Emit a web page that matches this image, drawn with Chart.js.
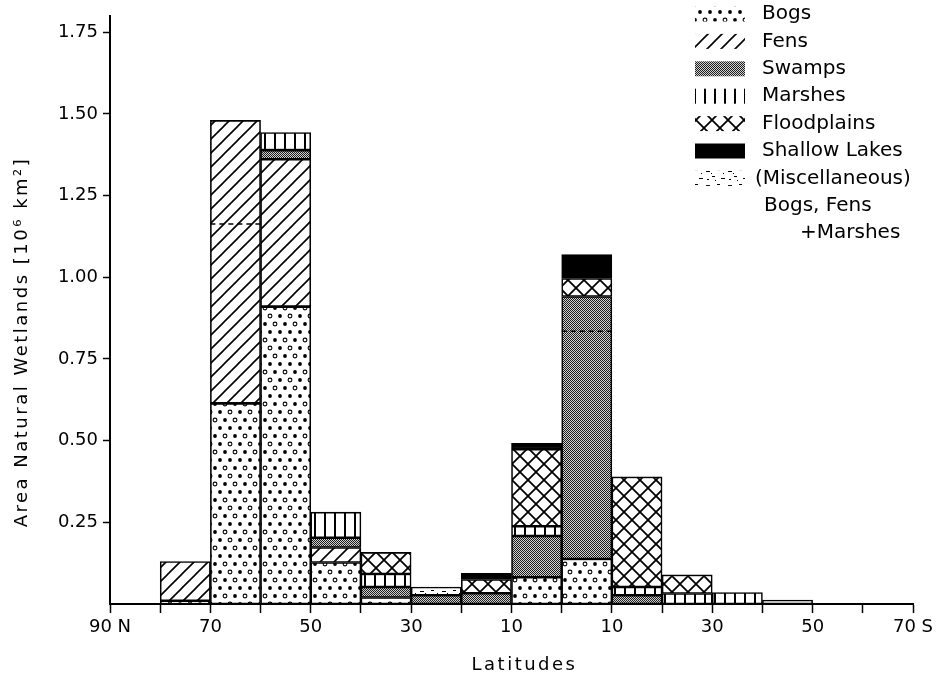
<!DOCTYPE html>
<html>
<head>
<meta charset="utf-8">
<title>Natural wetlands by latitude</title>
<script src="https://cdn.jsdelivr.net/npm/chart.js@4/dist/chart.umd.min.js"></script>
<style>
  html, body { margin: 0; padding: 0; background: #fff; }
  #wrap { width: 946px; height: 676px; }
</style>
</head>
<body>
<div id="wrap"><canvas id="chart" width="946" height="676"></canvas></div>
<script>
// Latitude bands, 10 degrees wide, given by their centre (north positive, south negative)
const bandCentres = [75, 65, 55, 45, 35, 25, 15, 5, -5, -15, -25, -35, -45];

// Area of each wetland type per band, 10^6 km^2 (stacked bottom to top)
const bogs        = [0.010, 0.614, 0.910, 0.127, 0.020, null,  null,  0.082, 0.138, null,  null,  null,  null];
const fens        = [0.120, 0.866, 0.451, 0.046, null,  null,  null,  null,  null,  null,  null,  null,  null];
const swamps      = [null,  null,  0.028, 0.030, 0.032, 0.027, 0.033, 0.126, 0.803, 0.027, null,  null,  null];
const marshes     = [null,  null,  0.054, 0.078, 0.040, null,  null,  0.030, null,  0.025, 0.032, 0.035, null];
const floodplains = [null,  null,  null,  null,  0.066, null,  0.042, 0.236, 0.055, 0.337, 0.057, null,  null];
const shallowLakes= [null,  null,  null,  null,  null,  null,  0.019, 0.018, 0.073, null,  null,  null,  null];
const misc        = [null,  null,  null,  null,  null,  0.025, null,  null,  null,  null,  null,  null,  0.012];

// Dashed sub-divisions drawn inside two of the columns
const dividerBands  = [65, -5];
const dividerLevels = [1.163, 0.835];

// Axis ticks
const xTickValues = [90, 70, 50, 30, 10, -10, -30, -50, -70];
const xTickLabels = ['90 N', '70', '50', '30', '10', '10', '30', '50', '70 S'];
const yTickValues = [0.25, 0.50, 0.75, 1.00, 1.25, 1.50, 1.75];

const xTitle = 'Latitudes';
const yTitle = 'Area Natural Wetlands [10\u2076 km\u00b2]';

// ---- fill patterns -------------------------------------------------------
function tile(w, h, paint) {
  const c = document.createElement('canvas');
  c.width = w; c.height = h;
  const g = c.getContext('2d');
  g.fillStyle = '#fff'; g.fillRect(0, 0, w, h);
  g.fillStyle = '#000'; g.strokeStyle = '#000';
  paint(g, w, h);
  return g.createPattern(c, 'repeat');
}

const patterns = {
  bogs: tile(20, 32, g => {
    const dot = (x, y, filled) => {
      g.beginPath(); g.arc(x, y, 1.9, 0, Math.PI * 2);
      if (filled) g.fill(); else { g.lineWidth = 1.1; g.stroke(); }
    };
    dot(5, 4, true);  dot(15, 4, false);
    dot(0, 12, true); dot(20, 12, true); dot(10, 12, true);
    dot(5, 20, false); dot(15, 20, true);
    dot(0, 28, true); dot(20, 28, true); dot(10, 28, false);
  }),
  fens: tile(14, 14, g => {
    g.lineWidth = 1.6; g.beginPath();
    g.moveTo(-2, 16); g.lineTo(16, -2);
    g.moveTo(-2, 2); g.lineTo(2, -2);
    g.moveTo(12, 16); g.lineTo(16, 12);
    g.stroke();
  }),
  swamps: tile(4, 4, g => {
    g.fillStyle = '#d2d2d2'; g.fillRect(0, 0, 4, 4);
    g.fillStyle = '#1c1c1c';
    for (let i = 0; i < 4; i++) for (let j = 0; j < 4; j++) if ((i + j) % 2 === 0) g.fillRect(i, j, 1, 1);
  }),
  marshes: tile(10, 10, g => { g.fillRect(4, 0, 2, 10); }),
  floodplains: tile(16, 16, g => {
    g.lineWidth = 1.8; g.beginPath();
    g.moveTo(-2, -2); g.lineTo(18, 18);
    g.moveTo(18, -2); g.lineTo(-2, 18);
    g.stroke();
  }),
  lakes: '#000',
  misc: tile(22, 14, g => {
    g.lineWidth = 1.2; g.beginPath();
    [[2, 3, 6, 3], [13, 2, 16, 2], [8, 8, 11, 8], [17, 10, 21, 10], [3, 11, 5, 11]].forEach(d => {
      g.moveTo(d[0], d[1] + 0.5); g.lineTo(d[2], d[3] + 0.5);
    });
    g.stroke();
    g.fillRect(19, 5, 1, 1); g.fillRect(11, 12, 1, 1); g.fillRect(7, 5, 1, 1);
  })
};

// ---- datasets ------------------------------------------------------------
const series = [
  { label: 'Bogs',          values: bogs,         fill: patterns.bogs,        legend: ['Bogs'] },
  { label: 'Fens',          values: fens,         fill: patterns.fens,        legend: ['Fens'] },
  { label: 'Swamps',        values: swamps,       fill: patterns.swamps,      legend: ['Swamps'] },
  { label: 'Marshes',       values: marshes,      fill: patterns.marshes,     legend: ['Marshes'] },
  { label: 'Floodplains',   values: floodplains,  fill: patterns.floodplains, legend: ['Floodplains'] },
  { label: 'Shallow Lakes', values: shallowLakes, fill: patterns.lakes,       legend: ['Shallow Lakes'] },
  { label: '(Miscellaneous) Bogs, Fens +Marshes', values: misc, fill: patterns.misc,
    legend: ['(Miscellaneous)', 'Bogs, Fens', '+Marshes'] }
];

const datasets = series.map(s => ({
  label: s.label,
  data: bandCentres.map((x, i) => ({ x, y: s.values[i] })),
  backgroundColor: s.fill,
  borderColor: '#000',
  borderWidth: 1.6,
  borderSkipped: false,
  barPercentage: 1,
  categoryPercentage: 1
}));

const FONT = '"DejaVu Sans", sans-serif';

// Dashed sub-division lines inside columns
const dividerPlugin = {
  id: 'dividers',
  afterDatasetsDraw(chart) {
    const { ctx, scales: { x, y } } = chart;
    ctx.save();
    ctx.strokeStyle = '#000'; ctx.lineWidth = 1.5; ctx.setLineDash([5, 4]);
    dividerBands.forEach((b, i) => {
      const x0 = x.getPixelForValue(b + 5), x1 = x.getPixelForValue(b - 5);
      const yy = y.getPixelForValue(dividerLevels[i]);
      ctx.beginPath(); ctx.moveTo(x0, yy); ctx.lineTo(x1, yy); ctx.stroke();
    });
    ctx.restore();
  }
};

// Pattern key in the upper right corner, plus the two axis titles
const annotationPlugin = {
  id: 'keyAndTitles',
  afterDraw(chart) {
    const { ctx, chartArea } = chart;
    ctx.save();
    ctx.fillStyle = '#000';
    ctx.textBaseline = 'middle';
    ctx.font = '20px ' + FONT;
    const swatchX = 695, swatchW = 50, swatchH = 15, textX = 762, rowH = 27.4, firstRow = 14;
    let row = 0;
    series.forEach(s => {
      const cy = firstRow + row * rowH;
      ctx.fillStyle = s.fill;
      ctx.fillRect(swatchX, cy - swatchH / 2, swatchW, swatchH);
      ctx.fillStyle = '#000';
      ctx.textAlign = 'left';
      s.legend.forEach((line, k) => {
        const indent = s.legend.length > 1 ? [-7, 2, 38][k] : 0;
        ctx.fillText(line, textX + indent, firstRow + (row + k) * rowH);
      });
      row += s.legend.length;
    });

    ctx.font = '18px ' + FONT;
    ctx.letterSpacing = '2.5px';
    ctx.textAlign = 'center';
    ctx.fillText(xTitle, (chartArea.left + chartArea.right) / 2 + 13, 665);

    ctx.translate(22, 342);
    ctx.rotate(-Math.PI / 2);
    ctx.fillText(yTitle, 0, 0);
    ctx.restore();
  }
};

new Chart(document.getElementById('chart'), {
  type: 'bar',
  data: { datasets },
  plugins: [dividerPlugin, annotationPlugin],
  options: {
    responsive: false,
    animation: false,
    devicePixelRatio: 1,
    layout: { padding: { top: 7, right: 33, left: 0, bottom: 0 } },
    plugins: { legend: { display: false }, tooltip: { enabled: false } },
    scales: {
      x: {
        type: 'linear',
        stacked: true,
        reverse: true,
        min: -70,
        max: 90,
        offset: false,
        afterFit(s) { s.height = 72; },
        afterBuildTicks(s) {
          const t = [];
          for (let v = 90; v >= -70; v -= 10) t.push({ value: v });
          s.ticks = t;
        },
        ticks: {
          autoSkip: false,
          maxRotation: 0,
          padding: 4,
          color: '#000',
          font: { family: FONT, size: 18 },
          callback(v) {
            const k = xTickValues.indexOf(v);
            return k >= 0 ? xTickLabels[k] : '';
          }
        },
        grid: {
          offset: false,
          drawOnChartArea: false,
          drawTicks: true,
          tickLength: 9,
          tickWidth: 1.5,
          tickColor: '#000'
        },
        border: { display: true, color: '#000', width: 2 }
      },
      y: {
        stacked: true,
        min: 0,
        max: 1.8,
        afterFit(s) { s.width = 110; },
        afterBuildTicks(s) { s.ticks = yTickValues.map(v => ({ value: v })); },
        ticks: {
          padding: 5,
          color: '#000',
          font: { family: FONT, size: 18 },
          callback(v) { return v.toFixed(2); }
        },
        grid: {
          drawOnChartArea: false,
          drawTicks: true,
          tickLength: 7,
          tickWidth: 1.5,
          tickColor: '#000'
        },
        border: { display: true, color: '#000', width: 2 }
      }
    }
  }
});
</script>
</body>
</html>
